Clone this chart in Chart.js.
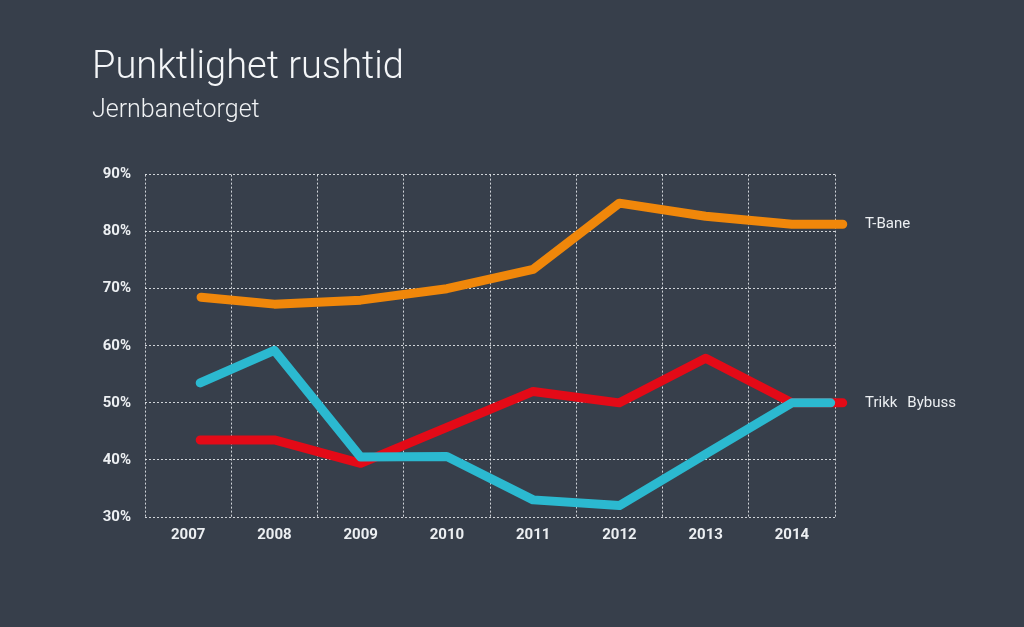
<!DOCTYPE html>
<html>
<head>
<meta charset="utf-8">
<script src="https://cdn.jsdelivr.net/npm/chart.js@4.4.1/dist/chart.umd.min.js"></script>
<style>
  html, body { margin: 0; padding: 0; background: #373f4b; }
  #wrap { width: 1024px; height: 627px; position: relative; }
</style>
</head>
<body>
<div id="wrap"><canvas id="c" width="1024" height="627"></canvas></div>
<script>
// ---- data ----
const titleText = 'Punktlighet rushtid';
const subtitleText = 'Jernbanetorget';
const xTickLabels = ['2007', '2008', '2009', '2010', '2011', '2012', '2013', '2014'];
const yTickValues = [30, 40, 50, 60, 70, 80, 90];

// x positions (years) of the drawn points; last one runs past 2014 to the label column
const xTBane  = [2007.15, 2008, 2009, 2010, 2011, 2012, 2013, 2014, 2014.59];
const xTrikk  = [2007.14, 2008, 2009, 2010, 2011, 2012, 2013, 2014, 2014.59];
const xBybuss = [2007.14, 2008, 2009, 2010, 2011, 2012, 2013, 2014, 2014.45];

const tBane  = [68.5, 67.3, 68.0, 70.0, 73.4, 85.0, 82.7, 81.3, 81.3];
const trikk  = [43.5, 43.5, 39.4, 45.7, 52.0, 50.0, 57.8, 50.0, 50.0];
const bybuss = [53.5, 59.2, 40.5, 40.6, 33.0, 32.0, 41.0, 50.0, 50.0];

const seriesNames = ['T-Bane', 'Trikk', 'Bybuss'];

// ---- styling ----
const BG = '#373f4b';
const TXT = '#eceff2';
const GRID = 'rgba(235,238,242,0.85)';
const COLORS = { 'T-Bane': '#f0870a', 'Trikk': '#e30a17', 'Bybuss': '#2bb9d0' };

function pts(xs, ys) { return xs.map((x, i) => ({ x: x, y: ys[i] })); }

const bgPlugin = {
  id: 'bg',
  beforeDraw(chart) {
    const ctx = chart.ctx;
    ctx.save();
    ctx.fillStyle = BG;
    ctx.fillRect(0, 0, chart.width, chart.height);
    ctx.restore();
  }
};

const endLabelPlugin = {
  id: 'endLabels',
  afterDatasetsDraw(chart) {
    const ctx = chart.ctx;
    const ys = chart.scales.y;
    const x0 = chart.chartArea.right + 30;
    ctx.save();
    ctx.font = '400 15px Roboto';
    ctx.fillStyle = TXT;
    ctx.textBaseline = 'middle';
    ctx.textAlign = 'left';
    const yT = ys.getPixelForValue(tBane[tBane.length - 1]);
    ctx.fillText(seriesNames[0], x0, yT);
    const yR = ys.getPixelForValue(trikk[trikk.length - 1]);
    ctx.fillText(seriesNames[1], x0, yR);
    const w = ctx.measureText(seriesNames[1]).width;
    ctx.fillText(seriesNames[2], x0 + w + 10, yR);
    ctx.restore();
  }
};

const lineDs = (label, data) => ({
  label: label,
  data: data,
  borderColor: COLORS[label],
  backgroundColor: COLORS[label],
  borderWidth: 9,
  borderCapStyle: 'round',
  borderJoinStyle: 'round',
  pointRadius: 0,
  pointHoverRadius: 0,
  tension: 0,
  fill: false,
  clip: false
});

new Chart(document.getElementById('c'), {
  type: 'line',
  data: {
    datasets: [
      lineDs('Bybuss', pts(xBybuss, bybuss)),
      lineDs('Trikk', pts(xTrikk, trikk)),
      lineDs('T-Bane', pts(xTBane, tBane))
    ]
  },
  options: {
    responsive: false,
    animation: false,
    devicePixelRatio: 1,
    layout: { padding: { left: 92, right: 189, top: 0, bottom: 80 } },
    plugins: {
      legend: { display: false },
      tooltip: { enabled: false },
      title: {
        display: true,
        text: titleText,
        align: 'start',
        color: '#f4f6f8',
        font: { family: 'Roboto', size: 38, weight: '300', lineHeight: 1.2 },
        padding: { top: 46, bottom: 0 }
      },
      subtitle: {
        display: true,
        text: subtitleText,
        align: 'start',
        color: '#f0f2f4',
        font: { family: 'Roboto', size: 25, weight: '300', lineHeight: 1.2 },
        padding: { top: 4, bottom: 49 }
      }
    },
    scales: {
      x: {
        type: 'linear',
        min: 2006.5,
        max: 2014.5,
        afterBuildTicks(scale) {
          const t = [];
          for (let i = 0; i <= xTickLabels.length * 2; i++) t.push({ value: 2006.5 + i * 0.5 });
          scale.ticks = t;
        },
        afterFit(scale) { scale.height = 30; },
        grid: {
          color: (c) => (c.tick && Math.abs(c.tick.value % 1) > 0.25) ? GRID : 'rgba(0,0,0,0)',
          lineWidth: 1,
          drawTicks: false
        },
        border: { display: false, dash: [2, 2] },
        ticks: {
          autoSkip: false,
          maxRotation: 0,
          padding: 9,
          color: TXT,
          font: { family: 'Roboto', size: 15, weight: '700' },
          callback: (v) => {
            const idx = v - 2007;
            return Number.isInteger(idx) && idx >= 0 && idx < xTickLabels.length ? xTickLabels[idx] : '';
          }
        }
      },
      y: {
        min: 30,
        max: 90,
        afterBuildTicks(scale) { scale.ticks = yTickValues.map(v => ({ value: v })); },
        afterFit(scale) { scale.width = 53; },
        grid: { color: GRID, lineWidth: 1, drawTicks: false },
        border: { display: false, dash: [2, 2] },
        ticks: {
          padding: 14,
          color: TXT,
          font: { family: 'Roboto', size: 15, weight: '700' },
          callback: (v) => v + '%'
        }
      }
    }
  },
  plugins: [bgPlugin, endLabelPlugin]
});
</script>
</body>
</html>
